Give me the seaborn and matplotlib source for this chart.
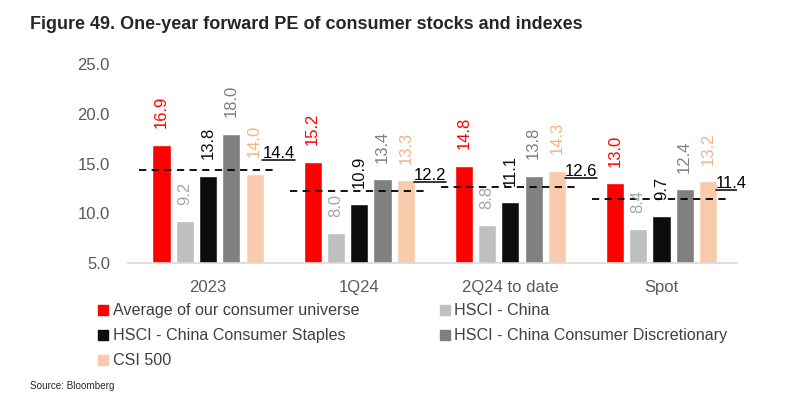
import numpy as np
import pandas as pd
import matplotlib
matplotlib.use('Agg')
import matplotlib.pyplot as plt
from matplotlib.lines import Line2D
import seaborn as sns

# Dados do gráfico
periods = ['2023', '1Q24', '2Q24 to date', 'Spot']
series_names = ['Average of our consumer universe', 'HSCI - China',
                'HSCI - China Consumer Staples', 'HSCI - China Consumer Discretionary',
                'CSI 500']
avg_universe = [16.9, 15.2, 14.8, 13.0]
hsci_china = [9.2, 8.0, 8.8, 8.4]
hsci_staples = [13.8, 10.9, 11.1, 9.7]
hsci_discretionary = [18.0, 13.4, 13.8, 12.4]
csi500 = [14.0, 13.3, 14.3, 13.2]
avg_line = [14.4, 12.2, 12.6, 11.4]
yticks = [5.0, 10.0, 15.0, 20.0, 25.0]

bar_colors = ['#FF0000', '#BFBFBF', '#0D0D0D', '#808080', '#F8CBAD']
label_colors = ['#FF0000', '#A6A6A6', '#0D0D0D', '#7F7F7F', '#F4B183']

rows = []
for name, vals in zip(series_names, [avg_universe, hsci_china, hsci_staples,
                                     hsci_discretionary, csi500]):
    for p, v in zip(periods, vals):
        rows.append({'period': p, 'series': name, 'pe': v})
df = pd.DataFrame(rows)

sns.set_style('white')
plt.rcParams['font.family'] = ['Liberation Sans', 'DejaVu Sans']

fig = plt.figure(figsize=(7.93, 4.11), dpi=100)
ax = fig.add_axes([0.1614, 0.360, 0.768, 0.484])

sns.barplot(data=df, x='period', y='pe', hue='series', hue_order=series_names,
            palette=bar_colors, width=0.77, gap=0.22, saturation=1,
            legend=False, ax=ax)

ax.set_ylim(5, 25)
ax.set_xlim(-0.53, 3.5)
ax.set_yticks(yticks)
ax.set_yticklabels([f'{t:.1f}' for t in yticks])
ax.set_xlabel('')
ax.set_ylabel('')
ax.tick_params(axis='both', length=0, labelsize=12, colors='#595959')
ax.tick_params(axis='x', pad=12)
ax.tick_params(axis='y', pad=13)
for s in ['top', 'right', 'left']:
    ax.spines[s].set_visible(False)
ax.spines['bottom'].set_color('#D9D9D9')
ax.spines['bottom'].set_linewidth(1.2)

# Rótulos verticais acima das barras
for cont, col in zip(ax.containers, label_colors):
    ax.bar_label(cont, fmt='%.1f', rotation=90, padding=12, color=col, fontsize=12)

# Linhas tracejadas com a média de cada período
fig.canvas.draw()
renderer = fig.canvas.get_renderer()
for i, v in enumerate(avg_line):
    ax.plot([i - 0.46, i + 0.45], [v, v], ls=(0, (4, 3)), color='black', lw=1.3)
    t = ax.annotate(f'{v:.1f}', xy=(i + 0.36, v), xytext=(0, 6),
                    textcoords='offset points', ha='left', va='bottom',
                    fontsize=12, color='black')
    bb = t.get_window_extent(renderer)
    inv = ax.transData.inverted()
    (x0, y0), (x1, _) = inv.transform([(bb.x0, bb.y0 + 1), (bb.x1, bb.y0 + 1)])
    ax.plot([x0, x1], [y0, y0], color='black', lw=1.1)

# Legenda
handles = [Line2D([], [], marker='s', ls='', markersize=7, color=c) for c in bar_colors]
order = [0, 2, 4, 1, 3]
fig.legend([handles[k] for k in order], [series_names[k] for k in order],
           loc='upper left', bbox_to_anchor=(0.124, 0.262), ncol=2, frameon=False,
           fontsize=11.6, labelcolor='#404040', handlelength=0.6, handletextpad=0.3,
           columnspacing=5.0, labelspacing=0.62, borderpad=0, borderaxespad=0)

fig.text(0.038, 0.94, 'Figure 49. One-year forward PE of consumer stocks and indexes',
         fontsize=13, fontweight='bold', va='center')
fig.text(0.038, 0.062, 'Source: Bloomberg', fontsize=7.1, color='#262626', va='center')

fig.savefig('out.png', dpi=100)
